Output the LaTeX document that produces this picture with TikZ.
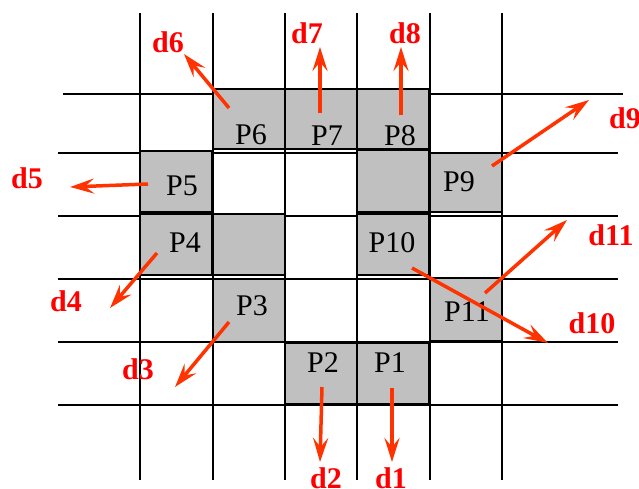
\documentclass[tikz,border=0pt]{standalone}
\usepackage{fontspec}
\setmainfont{Liberation Serif}
\usetikzlibrary{arrows.meta}
\definecolor{cellgrey}{RGB}{192,192,192}
\definecolor{arrowred}{RGB}{255,51,0}
\definecolor{labelred}{RGB}{255,0,0}
\begin{document}
\begin{tikzpicture}[x=1pt,y=-1pt,
  gridline/.style={line width=1.6pt,black},
  cell/.style={fill=cellgrey,draw=black,line width=1.2pt},
  plabel/.style={font=\fontsize{30}{36}\selectfont,inner sep=0pt},
  dlabel/.style={font=\fontsize{30}{36}\selectfont\bfseries,text=labelred,inner sep=0pt},
  dirarrow/.style={draw=arrowred,line width=3.5pt,-{Stealth[length=24pt,width=15pt,inset=9pt]}}]
\useasboundingbox (0,0) rectangle (639,488);
% grid
\foreach \x in {140,213,285,357,430,502} \draw[gridline] (\x,13) -- (\x,480);
\draw[gridline] (63,94) -- (623,94);
\foreach \y in {153,216,279,342,405} \draw[gridline] (58,\y) -- (618,\y);
% grey cells
\draw[cell] (213,89) rectangle (285,149);   % P6
\draw[cell] (285,89) rectangle (357,149);   % P7
\draw[cell] (357,89) rectangle (429,149);   % P8
\draw[cell] (140,151) rectangle (212,212);  % P5
\draw[cell] (357,150) rectangle (429,212);  % blank
\draw[cell] (430,153) rectangle (502,212);  % P9
\draw[cell] (140,214) rectangle (212,275);  % P4
\draw[cell] (213,214) rectangle (285,275);  % blank
\draw[cell] (357,214) rectangle (429,275);  % P10
\draw[cell] (213,279) rectangle (285,342);  % P3
\draw[cell] (430,278) rectangle (502,341);  % P11
\draw[cell] (285,343) rectangle (357,404);  % P2
\draw[cell] (357,343) rectangle (429,404);  % P1
% P labels
\node[plabel] (P6) at (251,135) {P6};
\node[plabel] (P7) at (327,136) {P7};
\node[plabel] (P8) at (400,136) {P8};
\node[plabel] (P5) at (182,186) {P5};
\node[plabel] (P9) at (459,182) {P9};
\node[plabel] (P4) at (185,243) {P4};
\node[plabel] (P10) at (392,243) {P10};
\node[plabel] (P3) at (252,306) {P3};
\node[plabel] (P11) at (467,312) {P11};
\node[plabel] (P2) at (323,363) {P2};
\node[plabel] (P1) at (390,363) {P1};
% arrow coordinates
\coordinate (s6) at (229,108);  \coordinate (e6) at (184,54);
\coordinate (s7) at (320,113);  \coordinate (e7) at (320,47);
\coordinate (s8) at (401,115);  \coordinate (e8) at (401,47);
\coordinate (s5) at (148,184);  \coordinate (e5) at (70,187);
\coordinate (s4) at (157,253);  \coordinate (e4) at (110,308);
\coordinate (s3) at (229,322);  \coordinate (e3) at (175,387);
\coordinate (s9) at (492,166);  \coordinate (e9) at (589,100);
\coordinate (s11) at (485,293); \coordinate (e11) at (567,220);
\coordinate (s10) at (412,268); \coordinate (e10) at (548,343);
\coordinate (s2) at (322,387);  \coordinate (e2) at (320,462);
\coordinate (s1) at (392,388);  \coordinate (e1) at (392,462);
\foreach \i in {1,...,11} \draw[dirarrow] (s\i) -- (e\i);
% d labels
\node[dlabel] (d6) at (168,42) {d6};
\node[dlabel] (d7) at (307,33) {d7};
\node[dlabel] (d8) at (405,33) {d8};
\node[dlabel] (d5) at (27,178) {d5};
\node[dlabel] (d4) at (66,301) {d4};
\node[dlabel] (d3) at (138,369) {d3};
\node[dlabel] (d9) at (625,118) {d9};
\node[dlabel] (d11) at (611,235) {d11};
\node[dlabel] (d10) at (592,323) {d10};
\node[dlabel,anchor=base] (d2) at (326,488) {d2};
\node[dlabel,anchor=base] (d1) at (391,488) {d1};
\end{tikzpicture}
\end{document}
